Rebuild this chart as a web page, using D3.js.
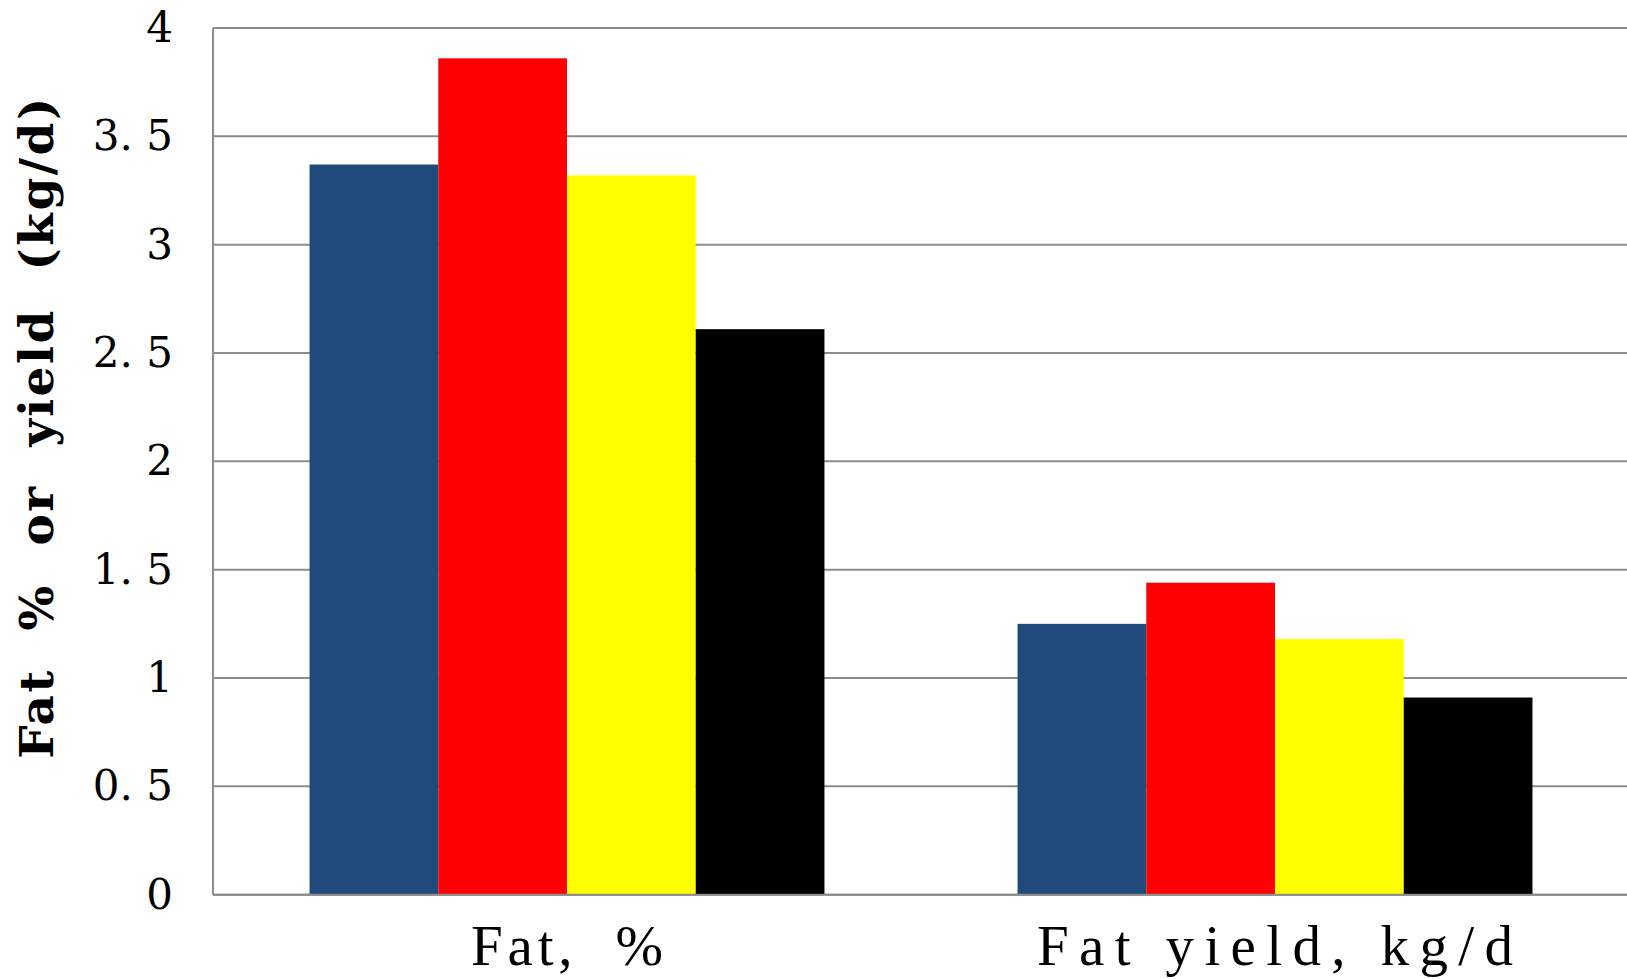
<!DOCTYPE html>
<html>
<head>
<meta charset="utf-8">
<script src="https://cdn.jsdelivr.net/npm/d3@7"></script>
<style>
  html, body { margin: 0; padding: 0; background: #ffffff; }
  svg { display: block; }
</style>
</head>
<body>
<div id="chart"></div>
<script>
// Milk fat content and fat yield for four groups
const categories = ["Fat,  %", "Fat yield, kg/d"];
const seriesNames = ["Group 1", "Group 2", "Group 3", "Group 4"];
const seriesColors = ["#214a7c", "#ff0000", "#ffff00", "#000000"];
const group1Values = [3.37, 1.25];
const group2Values = [3.86, 1.44];
const group3Values = [3.32, 1.18];
const group4Values = [2.61, 0.91];
const yTicks = [0, 0.5, 1, 1.5, 2, 2.5, 3, 3.5, 4];
const yTitle = "Fat  %  or  yield  (kg/d)";

const seriesValues = [group1Values, group2Values, group3Values, group4Values];

const W = 1627, H = 979;
const margin = { top: 28, right: -2, bottom: 84.3, left: 213 };

const svg = d3.select("#chart").append("svg")
  .attr("width", W).attr("height", H)
  .style("background", "#ffffff");

const x0 = d3.scaleBand()
  .domain(categories)
  .range([margin.left, W - margin.right])
  .paddingInner(0).paddingOuter(0);

const x1 = d3.scaleBand()
  .domain(seriesNames)
  .range([0, x0.bandwidth()])
  .paddingInner(0).paddingOuter(0.75);

const y = d3.scaleLinear()
  .domain([0, 4])
  .range([H - margin.bottom, margin.top]);

const gridColor = "#8c8c8c";

// horizontal gridlines
svg.append("g")
  .selectAll("line")
  .data(yTicks)
  .join("line")
  .attr("x1", margin.left).attr("x2", W)
  .attr("y1", d => y(d)).attr("y2", d => y(d))
  .attr("stroke", gridColor).attr("stroke-width", 2);

// left axis line
svg.append("line")
  .attr("x1", margin.left).attr("x2", margin.left)
  .attr("y1", y(4)).attr("y2", y(0))
  .attr("stroke", gridColor).attr("stroke-width", 2);

// bars
const groups = svg.append("g")
  .selectAll("g")
  .data(categories)
  .join("g")
  .attr("transform", d => `translate(${x0(d)},0)`);

groups.selectAll("rect")
  .data((c, ci) => seriesNames.map((s, si) => ({ s, v: seriesValues[si][ci], color: seriesColors[si] })))
  .join("rect")
  .attr("x", d => x1(d.s))
  .attr("width", x1.bandwidth())
  .attr("y", d => y(d.v))
  .attr("height", d => y(0) - y(d.v))
  .attr("fill", d => d.color);

// baseline drawn over the bars
svg.append("line")
  .attr("x1", margin.left).attr("x2", W)
  .attr("y1", y(0)).attr("y2", y(0))
  .attr("stroke", gridColor).attr("stroke-width", 2);

// y axis tick labels
const yAxis = d3.axisLeft(y)
  .tickValues(yTicks)
  .tickSize(0)
  .tickPadding(40)
  .tickFormat(d => d === 0 ? "0" : String(d).replace(".", ". "));

const yAxisG = svg.append("g")
  .attr("transform", `translate(${margin.left},0)`)
  .call(yAxis);
yAxisG.select(".domain").remove();
yAxisG.selectAll("text")
  .attr("font-family", "'DejaVu Serif', serif")
  .attr("font-size", 42)
  .attr("fill", "#000")
  .style("white-space", "pre");

// x category labels
const xLabelWidths = [192, 476];
svg.append("g")
  .selectAll("text")
  .data(categories)
  .join("text")
  .attr("x", d => x0(d) + x0.bandwidth() / 2)
  .attr("y", 965)
  .attr("text-anchor", "middle")
  .attr("font-family", "'Liberation Serif', serif")
  .attr("font-size", 57)
  .attr("fill", "#000")
  .style("white-space", "pre")
  .attr("textLength", (d, i) => xLabelWidths[i])
  .attr("lengthAdjust", "spacing")
  .text(d => d);

// y axis title
svg.append("text")
  .attr("transform", `translate(53,${(y(0) + y(4)) / 2 - 33}) rotate(-90)`)
  .attr("text-anchor", "middle")
  .attr("font-family", "'DejaVu Serif', serif")
  .attr("font-weight", "bold")
  .attr("font-size", 47)
  .attr("fill", "#000")
  .style("white-space", "pre")
  .attr("textLength", 661)
  .attr("lengthAdjust", "spacing")
  .text(yTitle);
</script>
</body>
</html>
